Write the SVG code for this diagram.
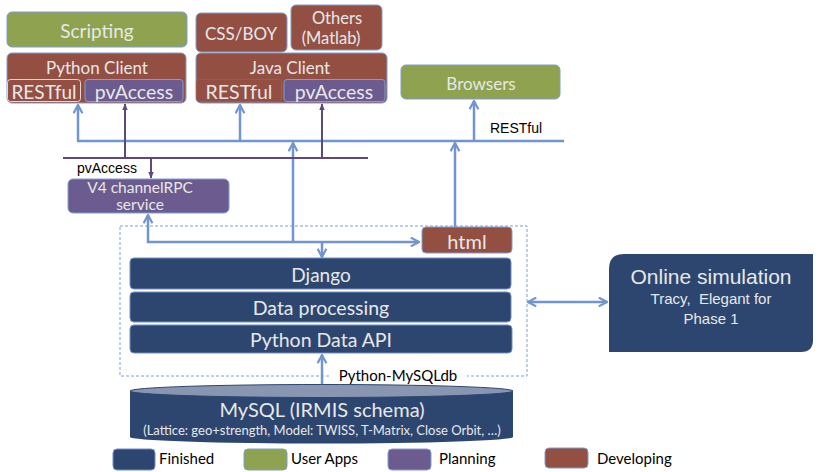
<svg xmlns="http://www.w3.org/2000/svg" width="822" height="472" viewBox="0 0 822 472">
<defs>
<style>
.fin{fill:#2d4670;stroke:#6f8fc6;stroke-width:1}
.app{fill:#8ea24f;stroke:#7f9ed2;stroke-width:1}
.pln{fill:#6b5b8e;stroke:#7f9ed2;stroke-width:1}
.dev{fill:#944f43;stroke:#7f9ed2;stroke-width:1}
.t{font-family:Lato,"Open Sans","DejaVu Sans",sans-serif;fill:#e8e8e8;text-anchor:middle}
.a{font-family:"Liberation Sans",Arial,sans-serif;fill:#000}
.b{font-family:Lato,"Open Sans","DejaVu Sans",sans-serif;fill:#000}
.s{font-family:"Liberation Sans",Arial,sans-serif;fill:#e8e8e8;text-anchor:middle}
.bl{stroke:#7095d0;stroke-width:2.5;fill:none}
.pl{stroke:#5c4a7c;stroke-width:2;fill:none}
</style>
<marker id="ab" viewBox="0 0 10 10" refX="9" refY="5" markerWidth="11" markerHeight="11" markerUnits="userSpaceOnUse" orient="auto-start-reverse">
<path d="M1.5,1 L9,5 L1.5,9" fill="none" stroke="#7095d0" stroke-width="2"/>
</marker>
<marker id="ap" viewBox="0 0 10 10" refX="9" refY="5" markerWidth="7" markerHeight="7" markerUnits="userSpaceOnUse" orient="auto">
<path d="M0,1 L10,5 L0,9 Z" fill="#5c4a7c"/>
</marker>
</defs>
<rect width="822" height="472" fill="#fff"/>

<g id="connectors">
<rect x="120" y="226" width="407" height="150" fill="none" stroke="#7f9ed2" stroke-width="1" stroke-dasharray="3,2"/>
<line class="bl" x1="77" y1="141" x2="564" y2="141"/>
<line class="bl" x1="78" y1="141" x2="78" y2="105" marker-end="url(#ab)"/>
<line class="bl" x1="240" y1="141" x2="240" y2="105" marker-end="url(#ab)"/>
<line class="bl" x1="474" y1="141" x2="474" y2="101" marker-end="url(#ab)"/>
<line class="bl" x1="293" y1="242" x2="293" y2="143" marker-end="url(#ab)"/>
<line class="bl" x1="455" y1="227" x2="455" y2="143" marker-end="url(#ab)"/>
<polyline class="bl" points="148,215 148,242 419,242" marker-start="url(#ab)" marker-end="url(#ab)"/>
<line class="bl" x1="322" y1="242" x2="322" y2="257" marker-end="url(#ab)"/>
<line class="bl" x1="322" y1="355" x2="322" y2="397" marker-start="url(#ab)" marker-end="url(#ab)"/>
<line class="bl" x1="528" y1="302" x2="607" y2="302" marker-start="url(#ab)" marker-end="url(#ab)"/>
<line class="pl" x1="63" y1="158" x2="368" y2="158"/>
<line class="pl" x1="125" y1="158" x2="125" y2="104" marker-end="url(#ap)"/>
<line class="pl" x1="322" y1="158" x2="322" y2="104" marker-end="url(#ap)"/>
<line class="pl" x1="151" y1="158" x2="151" y2="178" marker-end="url(#ap)"/>
<text class="a" x="490" y="133" font-size="14">RESTful</text>
<text class="a" x="77" y="173" font-size="14">pvAccess</text>
<rect x="330" y="368" width="137" height="18" fill="#fff"/>
<text class="b" x="398" y="381" font-size="15" text-anchor="middle">Python-MySQLdb</text>
</g>

<g id="scripting">
<rect class="app" x="7" y="12" width="180" height="35" rx="5"/>
<text class="t" x="97" y="38" font-size="19">Scripting</text>
</g>
<g id="cssboy">
<rect class="dev" x="196" y="13" width="91" height="39" rx="5"/>
<text class="t" x="241" y="40" font-size="17">CSS/BOY</text>
</g>
<g id="others">
<rect class="dev" x="291" y="5" width="91" height="45" rx="5"/>
<text class="t" x="337" y="24" font-size="16.5">Others</text>
<text class="t" x="331" y="44" font-size="16.5">(Matlab)</text>
</g>
<g id="python-client">
<rect class="dev" x="7" y="53" width="179" height="50" rx="5"/>
<text class="t" x="97" y="74" font-size="17">Python Client</text>
<rect x="7.5" y="79.5" width="73" height="22" rx="3" fill="#944f43" stroke="#ead5cf" stroke-width="1"/>
<text class="t" x="44" y="99" font-size="19">RESTful</text>
<rect class="pln" x="85" y="79.5" width="98" height="22" rx="3"/>
<text class="t" x="134" y="99" font-size="19.5">pvAccess</text>
</g>
<g id="java-client">
<rect class="dev" x="196" y="53" width="191" height="50" rx="5"/>
<text class="t" x="290" y="74" font-size="17">Java Client</text>
<rect x="196.5" y="79.5" width="85" height="22" rx="3" fill="#944f43" stroke="#a05a4c" stroke-width="1"/>
<text class="t" x="239" y="99" font-size="19.5">RESTful</text>
<rect class="pln" x="284" y="79.5" width="101" height="22" rx="3"/>
<text class="t" x="334" y="99" font-size="19.5">pvAccess</text>
</g>
<g id="browsers">
<rect class="app" x="401" y="65" width="159" height="34" rx="5"/>
<text class="t" x="481" y="90" font-size="17">Browsers</text>
</g>
<g id="v4">
<rect class="pln" x="68" y="179" width="161" height="34" rx="5"/>
<text class="t" x="140" y="193" font-size="15.5">V4 channelRPC</text>
<text class="t" x="140" y="210" font-size="15.5">service</text>
</g>
<g id="html">
<rect class="dev" x="422" y="227" width="90" height="26" rx="4"/>
<text class="t" x="467" y="249" font-size="20">html</text>
</g>
<g id="django">
<rect class="fin" x="130" y="258" width="381" height="31" rx="4"/>
<text class="t" x="321" y="282" font-size="19">Django</text>
</g>
<g id="data-processing">
<rect class="fin" x="130" y="292" width="381" height="30" rx="4"/>
<text class="t" x="321" y="315" font-size="19.5">Data processing</text>
</g>
<g id="python-data-api">
<rect class="fin" x="130" y="325" width="382" height="28" rx="4"/>
<text class="t" x="321" y="347" font-size="19.5">Python Data API</text>
</g>
<g id="online-simulation">
<path d="M624,254 L813,254 L813,340 Q813,352 801,352 L609,352 L609,269 Q609,254 624,254 Z" fill="#2d4670"/>
<text class="s" x="711" y="284" font-size="21">Online simulation</text>
<text class="s" x="711" y="304" font-size="15">Tracy,&#160; Elegant for</text>
<text class="s" x="711" y="324" font-size="15">Phase 1</text>
</g>
<g id="mysql">
<path d="M130,391 L130,437 A191.5,6.5 0 0 0 513,437 L513,391 Z" fill="#2d4670"/>
<ellipse cx="321.5" cy="391" rx="191.5" ry="6.5" fill="#8896b2" stroke="#2d4670" stroke-width="1"/>
<text class="t" x="322" y="417" font-size="20">MySQL (IRMIS schema)</text>
<text class="t" x="322" y="435" font-size="13">(Lattice: geo+strength, Model: TWISS, T-Matrix, Close Orbit, …)</text>
</g>
<g id="legend">
<rect class="fin" x="113" y="449" width="42" height="21" rx="4"/>
<text class="b" x="159" y="464" font-size="15">Finished</text>
<rect class="app" x="244" y="449" width="43" height="21" rx="4"/>
<text class="b" x="291" y="464" font-size="15">User Apps</text>
<rect class="pln" x="388" y="449" width="43" height="21" rx="4"/>
<text class="b" x="439" y="464" font-size="15">Planning</text>
<rect class="dev" x="545" y="448" width="43" height="20" rx="4"/>
<text class="b" x="597" y="464" font-size="15">Developing</text>
</g>
</svg>
